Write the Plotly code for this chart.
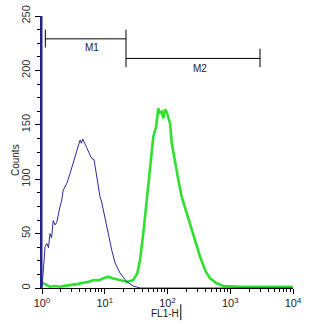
import math
import plotly.graph_objects as go

# Isotype control histogram (FL1-H channel value, event count)
control_fl = [1.0, 1.0, 1.12, 1.19, 1.27, 1.34, 1.42, 1.51, 1.61, 1.71, 1.94, 2.05, 2.18, 2.48, 2.79,
              3.16, 3.57, 4.04, 4.25, 4.46, 5.15, 6.19, 6.75, 7.45, 8.39, 8.93, 10.1, 11.4,
              12.9, 14.6, 17.5, 22.4, 28.5, 36.5, 9900]
control_counts = [300, 0, 38, 41, 37, 50, 46, 62, 58, 60, 75, 80, 90, 96, 105,
                  116, 127, 136, 133, 137, 129, 119, 118, 102, 84, 79, 62.5, 50,
                  35, 23, 13.8, 5.8, 1.8, 0, 0]

# Antibody-stained sample histogram
stained_fl = [1.0, 1.05, 1.2, 1.34, 1.6, 1.94, 2.4, 3.16, 3.8, 4.55, 5.5, 6.58, 8.0, 9.48, 11.4,
              13.2, 15.5, 18.5, 22.4, 25.5, 28.5, 33.0, 36.5, 41.1, 46.7, 52.6, 59.4, 65.6,
              71.3, 75.0, 80.9, 85.7, 91.0, 97.1, 110, 117, 132, 149, 168, 202, 229,
              258, 292, 330, 396, 475, 608, 774, 1429, 9900]
stained_counts = [5, 4.3, 2.0, 1.2, 1.8, 1.2, 2.2, 2.8, 3.8, 4.9, 5.6, 7.4, 7.0, 8.9, 10.4,
                  9.0, 8.0, 6.8, 5.8, 6.5, 7.4, 13.5, 25.7, 50, 81, 111.5, 139, 148,
                  165, 161, 162, 156, 164, 162, 151, 133, 114.6, 99, 84, 68.7, 59.5,
                  50, 38, 28.8, 16.5, 8.9, 4.3, 1.8, 1.2, 1.2]

# Marker gates: name, low, high, level, label position
gate_names = ["M1", "M2"]
gate_low = [1.13, 21.8]
gate_high = [21.8, 2980]
gate_level = [229, 211]
gate_label_x = [6.27, 330]
gate_label_y = [221, 202]

x_major = [1, 10, 100, 1000, 10000]
x_major_text = ["10<sup>0</sup>", "10<sup>1</sup>", "10<sup>2</sup>", "10<sup>3</sup>", "10<sup>4</sup>"]
x_minor = [m * d for d in [1, 10, 100, 1000] for m in range(2, 10)]
y_major = [0, 50, 100, 150, 200, 250]
y_minor = [i * 12.5 for i in range(21)]

font_family = "Liberation Sans, Arial"

fig = go.Figure()
fig.add_trace(go.Scatter(x=stained_fl, y=stained_counts, mode="lines",
                         line=dict(color="#2fe02f", width=2.6), hoverinfo="skip"))
fig.add_trace(go.Scatter(x=control_fl, y=control_counts, mode="lines",
                         line=dict(color="#2b2b96", width=1), hoverinfo="skip"))

# gate bars and their end ticks
for lo, hi, lvl in zip(gate_low, gate_high, gate_level):
    fig.add_shape(type="line", xref="x", yref="y", x0=lo, x1=hi, y0=lvl, y1=lvl,
                  line=dict(color="black", width=1))
fig.add_shape(type="line", xref="x", yref="y", x0=gate_low[0], x1=gate_low[0],
              y0=gate_level[0] - 8, y1=gate_level[0] + 8.5, line=dict(color="black", width=1))
fig.add_shape(type="line", xref="x", yref="y", x0=gate_high[0], x1=gate_high[0],
              y0=gate_level[1] - 8, y1=gate_level[0] + 8.5, line=dict(color="black", width=1))
fig.add_shape(type="line", xref="x", yref="y", x0=gate_high[1], x1=gate_high[1],
              y0=gate_level[1] - 8, y1=gate_level[1] + 9, line=dict(color="black", width=1))
for name, lx, ly in zip(gate_names, gate_label_x, gate_label_y):
    fig.add_annotation(x=math.log10(lx), y=ly, xref="x", yref="y", text=name, showarrow=False,
                       font=dict(family=font_family, size=10, color="#222"),
                       xanchor="center", yanchor="middle")

# axis titles
fig.add_annotation(x=-0.108, y=0.47, xref="paper", yref="paper", text="Counts", textangle=-90,
                   showarrow=False, font=dict(family=font_family, size=10, color="#222"),
                   xanchor="center", yanchor="middle")
fig.add_annotation(x=0.49, y=-0.092, xref="paper", yref="paper", text="FL1-H",
                   showarrow=False, font=dict(family=font_family, size=10, color="#222"),
                   xanchor="center", yanchor="middle")
fig.add_shape(type="line", xref="paper", yref="paper", x0=0.553, x1=0.553, y0=-0.06, y1=-0.118,
              line=dict(color="black", width=1))

fig.update_layout(
    width=326, height=324,
    margin=dict(l=42, r=33, t=16, b=36),
    paper_bgcolor="white", plot_bgcolor="white",
    showlegend=False,
    xaxis=dict(type="log", range=[0, 4], tickmode="array", tickvals=x_major,
               ticktext=x_major_text, ticks="outside", ticklen=5, tickcolor="black",
               showline=True, linecolor="black", linewidth=1, showgrid=False, zeroline=False,
               automargin=False,
               tickfont=dict(family=font_family, size=11, color="#222"),
               minor=dict(tickmode="array", tickvals=x_minor, ticks="outside", ticklen=3,
                          tickcolor="black", showgrid=False)),
    yaxis=dict(range=[0, 250], tickmode="array", tickvals=y_major, ticks="outside",
               ticklen=5, tickcolor="black", tickangle=-90, ticklabelstandoff=1,
               showline=True, linecolor="#22228a", linewidth=2, showgrid=False, zeroline=False,
               automargin=False,
               tickfont=dict(family=font_family, size=11, color="#333"),
               minor=dict(tickmode="array", tickvals=y_minor, ticks="outside", ticklen=3,
                          tickcolor="black", showgrid=False)),
)

fig.write_html("out.html")
